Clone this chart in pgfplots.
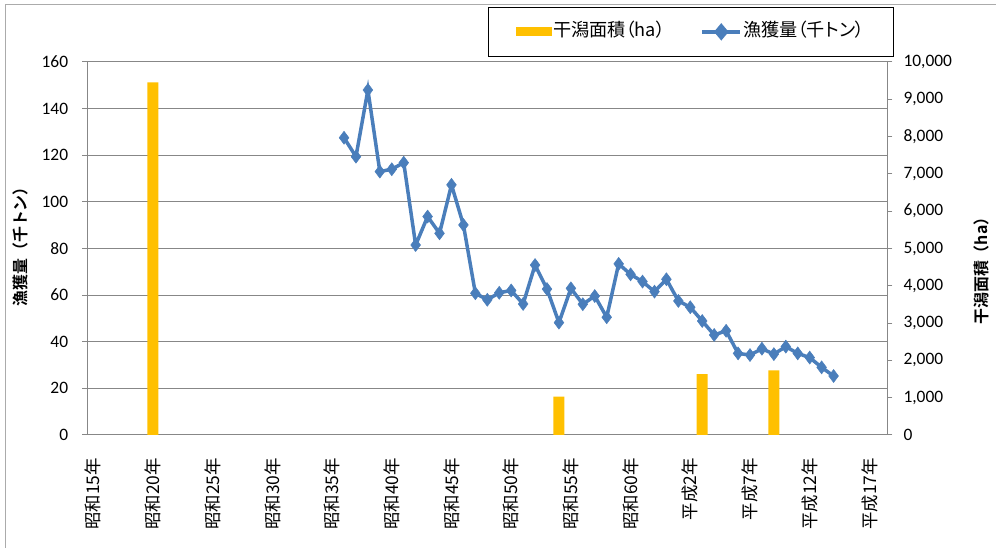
\documentclass[border=0pt]{standalone}
\usepackage{fontspec}
\usepackage{pgfplots}
\pgfplotsset{compat=1.18}
\setmainfont{Carlito}
\newfontfamily\jp[BoldFont={Noto Sans CJK JP Bold}]{Noto Sans CJK JP}
\newfontfamily\jpp[RawFeature=+palt]{Noto Sans CJK JP}
\definecolor{barc}{HTML}{FFC000}
\definecolor{linec}{HTML}{4A7EBB}
\definecolor{axc}{HTML}{878787}
\newcommand{\fs}{\fontsize{17.5}{20}\selectfont}
\newcommand{\fl}{\fontsize{16}{19}\selectfont}
\newcommand{\fg}{\fontsize{18.2}{21}\selectfont}

\pgfplotstableread{
year area
1945 9450
1979 1030
1991 1630
1997 1730
}\areadata

\pgfplotstableread{
year catch
1961 127.5
1962 119.4
1963 148.0
1964 113.0
1965 114.0
1966 116.8
1967 81.5
1968 93.7
1969 86.5
1970 107.3
1971 90.1
1972 60.8
1973 58.0
1974 61.0
1975 62.0
1976 56.2
1977 72.9
1978 62.6
1979 48.2
1980 62.9
1981 56.1
1982 59.6
1983 50.5
1984 73.4
1985 68.9
1986 65.8
1987 61.5
1988 66.8
1989 57.5
1990 54.8
1991 48.9
1992 42.9
1993 44.7
1994 35.0
1995 34.3
1996 37.0
1997 34.7
1998 37.9
1999 35.0
2000 33.2
2001 29.0
2002 25.3
}\catchdata

\begin{document}
\begin{tikzpicture}[x=1bp,y=1bp]
\path[use as bounding box] (0,0) rectangle (996,548);
\draw[axc!70, line width=1bp] (5,0) -- (5,543) -- (996,543);

\pgfplotsset{
  base/.style={
    at={(87.3bp,113bp)}, anchor=south west,
    scale only axis, width=800bp, height=373bp,
    xmin=1939.5, xmax=2006.5,
    /pgf/number format/assume math mode=true,
    tick label style={font=\fs},
    tick align=outside,
  }
}

% left axis with grid and x axis
\begin{axis}[base,
  ymin=0, ymax=160,
  ytick={0,20,...,160},
  axis x line*=bottom, axis y line*=left,
  axis line style={axc, line width=1bp},
  ymajorgrids, grid style={axc, line width=1bp},
  major tick style={axc, line width=1bp},
  minor tick style={axc, line width=1bp},
  major tick length=5bp,
  xtick={1940,1945,...,2005},
  xticklabels={昭和15年,昭和20年,昭和25年,昭和30年,昭和35年,昭和40年,昭和45年,昭和50年,昭和55年,昭和60年,平成2年,平成7年,平成12年,平成17年},
  x tick style={draw=none},
  minor xtick={1939.5,1944.5,...,2006},
  minor tick length=5bp,
  xticklabel style={font=\jp\fs, rotate=90, anchor=east, inner sep=0pt},
  xticklabel shift=18bp,
  yticklabel style={inner sep=0pt},
  yticklabel shift=14bp,
  ylabel={\jp\bfseries 漁獲量（千トン）},
  ylabel style={font=\fl, at={(axis description cs:-0.0841,0.515)}, anchor=center},
]
\addplot[draw=none] coordinates {(1940,0)};
\end{axis}

% right axis with bars
\begin{axis}[base,
  ymin=0, ymax=10000,
  ytick={0,1000,...,10000},
  scaled y ticks=false,
  /pgf/number format/fixed,
  /pgf/number format/1000 sep={,},
  axis x line=none, axis y line*=right,
  axis line style={axc, line width=1bp},
  major tick style={axc, line width=1bp},
  major tick length=5bp,
  yticklabel style={inner sep=0pt, anchor=west},
  yticklabel shift=11bp,
  ylabel={\jp\bfseries 干潟面積（ha）},
  ylabel style={font=\fl, at={(axis description cs:1.1171,0.45)}, anchor=center},
]
\addplot[ybar, bar width=11bp, fill=barc, draw=none] table[x=year,y=area] {\areadata};
\end{axis}

% line on left scale
\begin{axis}[base,
  ymin=0, ymax=160, hide axis,
  legend columns=2,
  legend style={at={(0.5009,1.1475)}, anchor=north west, draw=black, line width=0.75bp,
    font=\jpp\fg, inner xsep=27.5bp, inner ysep=14.5bp,
    nodes={inner sep=1.5bp, text height=13bp, text depth=4bp}},
  /tikz/every even column/.append style={column sep=34bp},
]
\addlegendimage{legend image code/.code={\fill[barc] (0bp,-4bp) rectangle (35bp,4bp);}}
\addlegendentry{干潟面積（ha）}
\addplot[linec, line width=3.5bp, mark=diamond*, mark size=6.5bp,
  mark options={fill=linec, draw=linec, line width=0.5bp},
  legend image code/.code={\draw[linec, line width=3.5bp] (0bp,0bp) -- (38bp,0bp);
    \fill[linec] (19bp,-6bp) -- (24bp,0bp) -- (19bp,6bp) -- (14bp,0bp) -- cycle;}]
  table[x=year,y=catch] {\catchdata};
\addlegendentry{漁獲量（千トン）}
\end{axis}
\end{tikzpicture}
\end{document}
